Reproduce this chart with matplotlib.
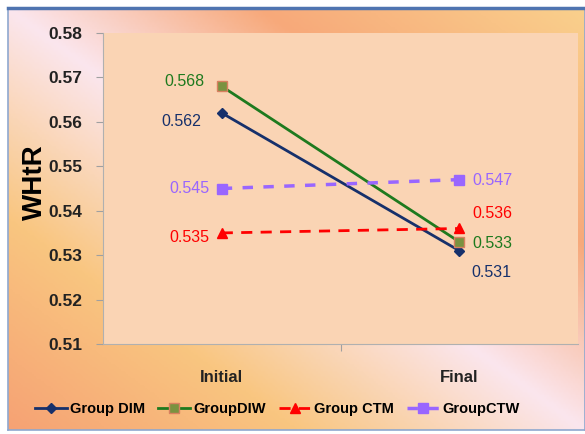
import numpy as np
import matplotlib
matplotlib.use('Agg')
import matplotlib.pyplot as plt
from matplotlib.colors import LinearSegmentedColormap

plt.rcParams['font.family'] = ['Liberation Sans', 'DejaVu Sans']

categories = ['Initial', 'Final']
dim = [0.562, 0.531]
diw = [0.568, 0.533]
ctm = [0.535, 0.536]
ctw = [0.545, 0.547]
yticks = [0.51, 0.52, 0.53, 0.54, 0.55, 0.56, 0.57, 0.58]

fig = plt.figure(figsize=(5.85, 4.34), dpi=100)
fig.patch.set_facecolor('white')

# gradient background of the chart frame
bg = fig.add_axes([8 / 585, 4 / 434, 1 - 8 / 585, 1 - 12 / 434], zorder=0)
nx, ny = 240, 180
xx, yy = np.meshgrid(np.linspace(0, 1, nx), np.linspace(0, 1, ny))  # yy: 0 at top
s = (xx - yy + 1) / 2
cmap = LinearSegmentedColormap.from_list(
    'bg', [(0.0, '#F6A274'), (0.25, '#F9C680'), (0.5, '#FBE6EE'), (0.72, '#F7A97A'), (1.0, '#FAD08C')])
bg.imshow(s, cmap=cmap, aspect='auto', extent=[0, 1, 0, 1], origin='upper')
bg.set_xlim(0, 1)
bg.set_ylim(0, 1)
bg.set_xticks([])
bg.set_yticks([])
for sp in bg.spines.values():
    sp.set_edgecolor('#8FA8CF')
    sp.set_linewidth(1.2)
bg.spines['top'].set_edgecolor('#4F74B0')
bg.spines['top'].set_linewidth(2.5)

ax = fig.add_axes([103 / 585, 1 - 344 / 434, 475 / 585, 311 / 434], zorder=1)
ax.set_facecolor('#FAD4B4')
x = np.arange(len(categories))

ax.plot(x, dim, color='#16306B', lw=2, marker='D', ms=5, mfc='#16306B', mec='#16306B', zorder=3)
ax.plot(x, diw, color='#1E7A1E', lw=2, marker='s', ms=7, mfc='#7A9240', mec='#D88060', zorder=3)
ax.plot(x, ctm, color='#FF0000', lw=2, ls=(0, (4, 3)), marker='^', ms=7, mfc='#FF0000', mec='#FF0000', zorder=3)
ax.plot(x, ctw, color='#9966FF', lw=2.5, ls=(0, (3, 3)), marker='s', ms=7, mfc='#9966FF', mec='#9966FF', zorder=3)

ax.set_xlim(-0.5, 1.5)
ax.set_ylim(0.51, 0.58)
ax.set_yticks(yticks)
ax.set_yticklabels(['%.2f' % v for v in yticks], fontsize=12.5, fontweight='bold', color='#222222')
ax.set_xticks([0.5])
ax.set_xticklabels([''])
ax.tick_params(axis='y', length=5, color='#A0A0A0', pad=10)
ax.tick_params(axis='x', length=5, color='#A0A0A0')
for sp in ['top', 'right']:
    ax.spines[sp].set_visible(False)
for sp in ['left', 'bottom']:
    ax.spines[sp].set_color('#B0B0B0')

for xi, lab in zip(x, categories):
    ax.text(xi, 0.5025, lab, ha='center', va='center', fontsize=12, fontweight='bold', color='#222222')

ax.set_ylabel('WHtR', fontsize=20, fontweight='bold')
ax.yaxis.set_label_coords(-0.116, 0.52)

fs = 11.5
ax.text(-0.072, diw[0] + 0.001, '%.3f' % diw[0], color='#1E7A1E', fontsize=fs, ha='right', va='center')
ax.text(-0.088, dim[0] - 0.002, '%.3f' % dim[0], color='#16306B', fontsize=fs, ha='right', va='center')
ax.text(-0.05, ctw[0] + 0.0001, '%.3f' % ctw[0], color='#9966FF', fontsize=fs, ha='right', va='center')
ax.text(-0.05, ctm[0] - 0.001, '%.3f' % ctm[0], color='#FF0000', fontsize=fs, ha='right', va='center')
ax.text(1.055, ctw[1] - 0.0003, '%.3f' % ctw[1], color='#9966FF', fontsize=fs, ha='left', va='center')
ax.text(1.055, ctm[1] + 0.0033, '%.3f' % ctm[1], color='#FF0000', fontsize=fs, ha='left', va='center')
ax.text(1.055, diw[1] - 0.0003, '%.3f' % diw[1], color='#1E7A1E', fontsize=fs, ha='left', va='center')
ax.text(1.05, dim[1] - 0.005, '%.3f' % dim[1], color='#16306B', fontsize=fs, ha='left', va='center')

handles = ax.get_lines()
leg = fig.legend(handles, ['Group DIM', 'GroupDIW', 'Group CTM', 'GroupCTW'],
                 loc='center left', bbox_to_anchor=(22 / 585, 1 - 409 / 434), ncol=4,
                 frameon=False, prop={'weight': 'bold', 'size': 10.5},
                 handlelength=2.2, handletextpad=0.2, columnspacing=0.9)

fig.savefig('out.png', dpi=100)
